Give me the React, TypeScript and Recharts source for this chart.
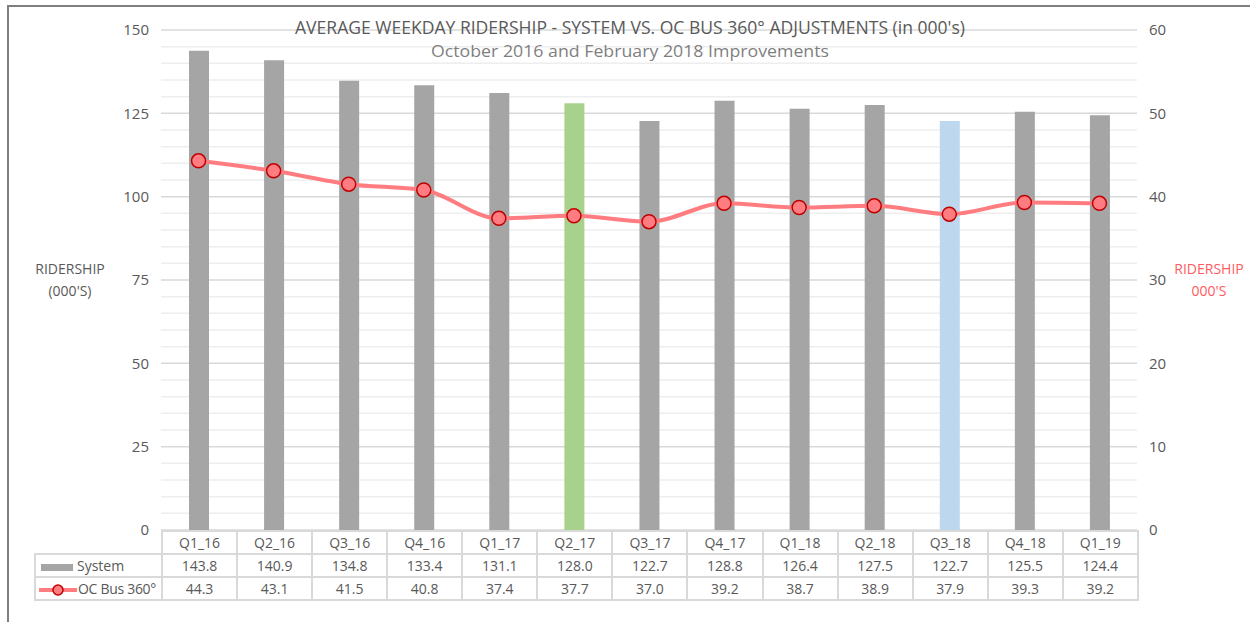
import React from 'react';
import { ComposedChart, Bar, Line, XAxis, YAxis, CartesianGrid, Cell, ReferenceLine } from 'recharts';

const quarters = ['Q1_16', 'Q2_16', 'Q3_16', 'Q4_16', 'Q1_17', 'Q2_17', 'Q3_17', 'Q4_17', 'Q1_18', 'Q2_18', 'Q3_18', 'Q4_18', 'Q1_19'];
const systemRidership = [143.8, 140.9, 134.8, 133.4, 131.1, 128.0, 122.7, 128.8, 126.4, 127.5, 122.7, 125.5, 124.4];
const ocBusRidership = [44.3, 43.1, 41.5, 40.8, 37.4, 37.7, 37.0, 39.2, 38.7, 38.9, 37.9, 39.3, 39.2];

const leftTicks = [0, 25, 50, 75, 100, 125, 150];
const rightTicks = [0, 10, 20, 30, 40, 50, 60];
const minorTicks = [5, 10, 15, 20, 30, 35, 40, 45, 55, 60, 65, 70, 80, 85, 90, 95, 105, 110, 115, 120, 130, 135, 140, 145];

// improvement quarters get their own bar colour
const highlight: Record<string, string> = { Q2_17: '#a9d18e', Q3_18: '#bdd7ee' };

const data = quarters.map((q, i) => ({ quarter: q, system: systemRidership[i], ocBus: ocBusRidership[i] }));

const FONT = '"Open Sans", "Noto Sans", sans-serif';
const TEXT = '#595959';
const GRID = '#d9d9d9';
const BAR_GRAY = '#a5a5a5';
const LINE_RED = '#ff7c80';

const PLOT_LEFT = 161;
const PLOT_RIGHT = 1137;
const COL_W = (PLOT_RIGHT - PLOT_LEFT) / quarters.length;

const cell: React.CSSProperties = {
  border: `2px solid ${GRID}`,
  height: 21,
  padding: 0,
  textAlign: 'center',
  fontSize: 14,
  color: TEXT,
  fontFamily: FONT,
  whiteSpace: 'nowrap',
  overflow: 'hidden',
};

function DataTable() {
  return (
    <table
      style={{
        position: 'absolute',
        left: 34,
        top: 530,
        borderCollapse: 'collapse',
        tableLayout: 'fixed',
        width: PLOT_RIGHT - 34,
      }}
    >
      <colgroup>
        <col style={{ width: PLOT_LEFT - 34 }} />
        {quarters.map((q) => (
          <col key={q} style={{ width: COL_W }} />
        ))}
      </colgroup>
      <tbody>
        <tr>
          <td style={{ ...cell, border: 'none', borderRight: `2px solid ${GRID}` }} />
          {quarters.map((q) => (
            <td key={q} style={cell}>{q}</td>
          ))}
        </tr>
        <tr>
          <td style={{ ...cell, textAlign: 'left' }}>
            <span style={{ display: 'inline-block', width: 32, height: 7, background: BAR_GRAY, margin: '0 4px 0 5px', verticalAlign: 'middle' }} />
            System
          </td>
          {systemRidership.map((v, i) => (
            <td key={i} style={cell}>{v.toFixed(1)}</td>
          ))}
        </tr>
        <tr>
          <td style={{ ...cell, textAlign: 'left', letterSpacing: -0.3 }}>
            <svg width={38} height={14} style={{ verticalAlign: 'middle', marginLeft: 3, marginRight: 1 }}>
              <line x1={1} y1={7} x2={37} y2={7} stroke={LINE_RED} strokeWidth={4} strokeLinecap="round" />
              <circle cx={19} cy={7} r={5} fill={LINE_RED} stroke="#c00000" strokeWidth={1.5} />
            </svg>
            OC Bus 360°
          </td>
          {ocBusRidership.map((v, i) => (
            <td key={i} style={cell}>{v.toFixed(1)}</td>
          ))}
        </tr>
      </tbody>
    </table>
  );
}

export default function App() {
  return (
    <div style={{ position: 'absolute', left: 0, top: 0, width: 1250, height: 622, background: '#fff', overflow: 'hidden' }}>
      <div style={{ position: 'absolute', left: 7, top: 5, width: 1300, height: 700, borderLeft: '2px solid #7f7f7f', borderTop: '2px solid #7f7f7f' }} />
      <ComposedChart
        width={1250}
        height={622}
        data={data}
        margin={{ top: 30, right: 73, bottom: 92, left: 121 }}
        barCategoryGap={0}
        style={{ position: 'absolute', left: 0, top: 0 }}
      >
        <XAxis dataKey="quarter" hide />
        <YAxis
          yAxisId="left"
          width={40}
          domain={[0, 150]}
          ticks={leftTicks}
          axisLine={false}
          tickLine={false}
          tickMargin={6}
          tick={{ fill: TEXT, fontSize: 15, fontFamily: FONT }}
        />
        <YAxis
          yAxisId="right"
          orientation="right"
          width={40}
          domain={[0, 60]}
          ticks={rightTicks}
          axisLine={false}
          tickLine={false}
          tickMargin={6}
          tick={{ fill: TEXT, fontSize: 15, fontFamily: FONT }}
        />
        <CartesianGrid yAxisId="left" vertical={false} stroke={GRID} strokeWidth={1.5} />
        {/* minor gridlines, kept under the bars */}
        {minorTicks.map((t) => (
          <ReferenceLine key={t} yAxisId="left" y={t} stroke="#eeeeee" strokeWidth={1.5} {...({ zIndex: -50 } as any)} />
        ))}
        <Bar yAxisId="left" dataKey="system" barSize={20} fill={BAR_GRAY} isAnimationActive={false}>
          {data.map((d) => (
            <Cell key={d.quarter} fill={highlight[d.quarter] ?? BAR_GRAY} />
          ))}
        </Bar>
        <Line
          yAxisId="right"
          type="monotone"
          dataKey="ocBus"
          stroke={LINE_RED}
          strokeWidth={4}
          dot={{ r: 7, fill: LINE_RED, stroke: '#c00000', strokeWidth: 1.5 }}
          isAnimationActive={false}
        />
      </ComposedChart>
      <svg width={1250} height={70} style={{ position: 'absolute', left: 0, top: 0, pointerEvents: 'none' }}>
        <text x={295} y={34} textLength={670} lengthAdjust="spacingAndGlyphs" fill={TEXT} fontSize={18} fontFamily={FONT}>
          AVERAGE WEEKDAY RIDERSHIP - SYSTEM VS. OC BUS 360° ADJUSTMENTS (in 000's)
        </text>
        <text x={431} y={57} textLength={398} lengthAdjust="spacingAndGlyphs" fill="#7f7f7f" fontSize={17} fontFamily={FONT}>
          October 2016 and February 2018 Improvements
        </text>
      </svg>
      <div style={{ position: 'absolute', left: 30, top: 258, width: 80, textAlign: 'center', fontSize: 14, lineHeight: '22px', color: TEXT, fontFamily: FONT }}>
        RIDERSHIP
        <br />
        (000'S)
      </div>
      <div style={{ position: 'absolute', left: 1169, top: 258, width: 80, textAlign: 'center', fontSize: 14, lineHeight: '22px', color: '#ff5b5f', fontFamily: FONT }}>
        RIDERSHIP
        <br />
        000'S
      </div>
      <DataTable />
    </div>
  );
}
